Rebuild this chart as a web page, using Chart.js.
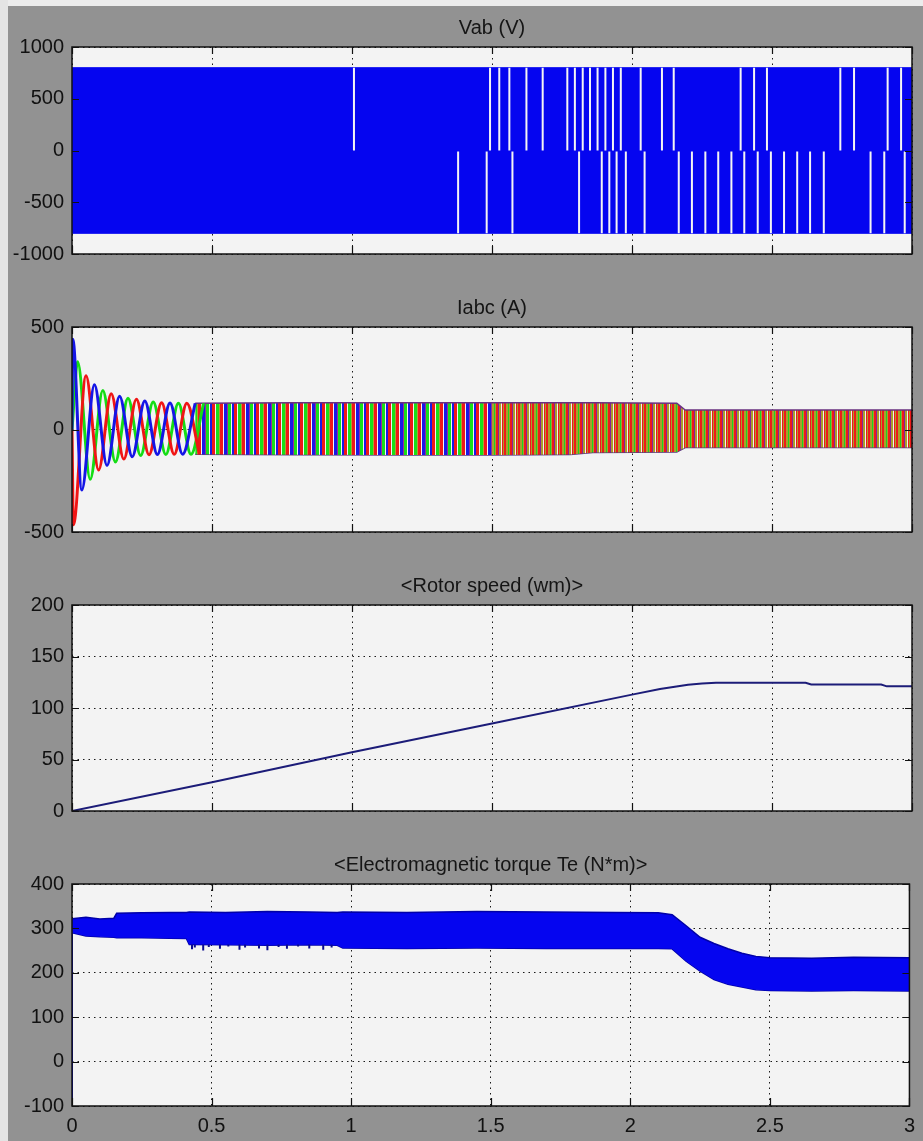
<!DOCTYPE html>
<html>
<head>
<meta charset="utf-8">
<title>Vab, Iabc, rotor speed, torque</title>
<script src="https://cdn.jsdelivr.net/npm/chart.js@4.4.0/dist/chart.umd.min.js"></script>
<style>
  html, body { margin: 0; padding: 0; }
  body { width: 923px; height: 1141px; background: #929292; position: relative; overflow: hidden; }
  .topband { position: absolute; left: 0; top: 0; width: 923px; height: 6px; background: #ececec; }
  .leftband { position: absolute; left: 0; top: 0; width: 8px; height: 1141px; background: #e4e4e4; }
  canvas { position: absolute; left: 0; }
</style>
</head>
<body>
<div class="topband"></div>
<div class="leftband"></div>
<canvas id="vab" width="923" height="267" style="top:7px"></canvas>
<canvas id="iabc" width="923" height="265" style="top:287px"></canvas>
<canvas id="speed" width="923" height="266" style="top:565px"></canvas>
<canvas id="torque" width="923" height="297" style="top:844px"></canvas>
<script>
// time axis (s)
const timeTicks = [0, 0.5, 1, 1.5, 2, 2.5, 3];

// Vab (V): PWM band with white gaps
const vabBandT = [0, 3];
const vabUpper = [800, 800];
const vabLower = [-800, -800];
const vabGapUpperT = [1.007, 1.493, 1.526, 1.562, 1.623, 1.681, 1.769, 1.796, 1.824, 1.850, 1.877, 1.905,
  1.932, 1.960, 2.031, 2.107, 2.149, 2.388, 2.436, 2.482, 2.744, 2.793, 2.913, 2.961];
const vabGapLowerT = [1.379, 1.481, 1.573, 1.811, 1.892, 1.919, 1.945, 1.978, 2.045, 2.167, 2.214, 2.262,
  2.308, 2.355, 2.401, 2.449, 2.496, 2.543, 2.590, 2.636, 2.685, 2.852, 2.901, 2.974];
const vabGapUpperSpan = [800, 0];
const vabGapLowerSpan = [-10, -800];

// Iabc (A): start-up peaks of the three phases
const iaT = [0, 0.005, 0.05, 0.095, 0.14, 0.185, 0.23, 0.275, 0.32, 0.365, 0.41, 0.455];
const iaV = [0, -465, 262, -198, 175, -144, 148, -123, 131, -121, 128, -121];
const ibT = [0, 0.003, 0.035, 0.08, 0.125, 0.17, 0.215, 0.26, 0.305, 0.35, 0.395, 0.44];
const ibV = [0, 440, -295, 218, -175, 162, -133, 139, -122, 129, -121, 128];
const icT = [0, 0.02, 0.065, 0.11, 0.155, 0.2, 0.245, 0.29, 0.335, 0.38, 0.425, 0.47];
const icV = [0, 330, -243, 190, -158, 153, -127, 134, -122, 128, -121, 128];
// Iabc envelope of the dense part
const iBandT = [0.44, 0.8, 1.2, 1.5, 1.78, 1.86, 2.16, 2.19, 3];
const iBandUp = [128, 130, 130, 130, 130, 130, 128, 95, 95];
const iBandLo = [-121, -123, -124, -124, -122, -112, -110, -88, -88];

// rotor speed (rad/s)
const wT = [0, 0.5, 1, 1.5, 2, 2.1, 2.2, 2.25, 2.3, 2.62, 2.64, 2.89, 2.91, 3];
const wV = [0, 28, 57, 85, 113, 118.5, 122.5, 123.8, 124.5, 124.5, 122.8, 122.8, 121, 121];

// electromagnetic torque (N*m): ripple band
const teT = [0, 0.05, 0.1, 0.15, 0.16, 0.25, 0.35, 0.41, 0.42, 0.55, 0.7, 0.85, 0.95, 0.97, 1.2, 1.45,
  1.7, 1.95, 2.1, 2.15, 2.2, 2.25, 2.3, 2.35, 2.4, 2.45, 2.5, 2.65, 2.8, 3];
const teUpper = [322, 325, 321, 323, 334, 335, 336, 336, 337, 336, 338, 337, 336, 337, 336, 338,
  337, 336, 335, 331, 306, 280, 266, 254, 244, 237, 234, 233, 235, 234];
const teLower = [290, 283, 281, 280, 279, 279, 278, 277, 264, 263, 262, 263, 262, 256, 255, 256,
  255, 255, 255, 254, 226, 204, 185, 174, 168, 162, 160, 159, 160, 159];
const teStartT = [0, 0];
const teStartV = [-130, 310];
const teSpikeT = [0.43, 0.44, 0.47, 0.49, 0.53, 0.56, 0.6, 0.62, 0.67, 0.7, 0.74, 0.77, 0.81, 0.85, 0.9, 0.93];
const teSpikeV = [253, 257, 250, 258, 254, 259, 252, 257, 255, 251, 258, 254, 259, 255, 252, 257];
const teSpikeTop = 264;

const FONT = '"Liberation Sans", Arial, sans-serif';

function pts(ts, vs) {
  return ts.map((t, i) => ({ x: t, y: vs[i] }));
}

// vertical segments separated by gaps
function bars(ts, from, to) {
  const out = [];
  ts.forEach((t, i) => {
    const a = Array.isArray(from) ? from[i] : from;
    const b = Array.isArray(to) ? to[i] : to;
    out.push({ x: t, y: a }, { x: t, y: b }, { x: t, y: null });
  });
  return out;
}

function stripes(parts) {
  const c = document.createElement('canvas');
  c.width = parts.reduce((s, p) => s + p[1], 0);
  c.height = 4;
  const g = c.getContext('2d');
  let x = 0;
  parts.forEach(([col, w]) => { g.fillStyle = col; g.fillRect(x, 0, w, 4); x += w; });
  return g.createPattern(c, 'repeat');
}

// plot background, box, inward ticks and the title, like a scope figure
const scopeFrame = {
  id: 'scopeFrame',
  beforeDraw(chart, args, opts) {
    const { ctx, chartArea: a } = chart;
    ctx.save();
    ctx.fillStyle = '#f3f3f3';
    ctx.fillRect(a.left, a.top, a.width, a.height);
    ctx.restore();
  },
  afterDraw(chart, args, opts) {
    const { ctx, chartArea: a, scales } = chart;
    ctx.save();
    ctx.strokeStyle = '#111';
    ctx.lineWidth = 1.5;
    ctx.strokeRect(a.left, a.top, a.width, a.height);
    ctx.lineWidth = 1.2;
    ctx.beginPath();
    scales.x.ticks.forEach(t => {
      const x = Math.round(scales.x.getPixelForValue(t.value)) + 0.5;
      ctx.moveTo(x, a.top); ctx.lineTo(x, a.top + 7);
      ctx.moveTo(x, a.bottom); ctx.lineTo(x, a.bottom - 8);
    });
    scales.y.ticks.forEach(t => {
      const y = Math.round(scales.y.getPixelForValue(t.value)) + 0.5;
      ctx.moveTo(a.left, y); ctx.lineTo(a.left + 7, y);
      ctx.moveTo(a.right, y); ctx.lineTo(a.right - 7, y);
    });
    ctx.stroke();
    ctx.fillStyle = '#151515';
    ctx.font = '20px ' + FONT;
    ctx.textAlign = 'center';
    ctx.textBaseline = 'middle';
    ctx.fillText(opts.title, (a.left + a.right) / 2, a.top - 19);
    ctx.restore();
  }
};

function makeChart(id, title, datasets, yMin, yMax, yStep, showX) {
  const grid = { color: '#1a1a1a', lineWidth: 1, drawTicks: false };
  const border = { display: false, dash: [1.5, 4] };
  const tickFont = { family: FONT, size: 20 };
  return new Chart(document.getElementById(id), {
    type: 'line',
    data: { datasets },
    plugins: [scopeFrame],
    options: {
      responsive: false,
      animation: false,
      events: [],
      layout: { padding: { top: 40, left: 0, right: 11, bottom: showX ? 0 : 4 } },
      elements: { point: { radius: 0 } },
      plugins: { legend: { display: false }, tooltip: { enabled: false }, scopeFrame: { title } },
      scales: {
        x: {
          type: 'linear', min: 0, max: 3,
          afterBuildTicks: s => { s.ticks = timeTicks.map(v => ({ value: v })); },
          ticks: { display: showX, color: '#111', font: tickFont, padding: 8, maxRotation: 0, autoSkip: false,
            callback: v => String(v) },
          grid, border,
          afterFit: s => { s.height = showX ? 35 : 0; }
        },
        y: {
          min: yMin, max: yMax,
          ticks: { stepSize: yStep, color: '#111', font: tickFont, padding: 8, callback: v => String(v) },
          grid, border,
          afterFit: s => { s.width = 72; }
        }
      }
    }
  });
}

const BLUE = '#0505f0';

makeChart('vab', 'Vab (V)', [
  { data: bars(vabGapUpperT, vabGapUpperSpan[0], vabGapUpperSpan[1]), borderColor: '#f4f4f4', borderWidth: 2, spanGaps: false },
  { data: bars(vabGapLowerT, vabGapLowerSpan[0], vabGapLowerSpan[1]), borderColor: '#f4f4f4', borderWidth: 2, spanGaps: false },
  { data: pts(vabBandT, vabUpper), borderColor: BLUE, borderWidth: 1, backgroundColor: BLUE, fill: 3 },
  { data: pts(vabBandT, vabLower), borderColor: BLUE, borderWidth: 1, fill: false }
], -1000, 1000, 500, false);

const patEarly = stripes([['#f01818', 3], ['#f4f4f4', 1], ['#1818e8', 3], ['#9a2a9a', 1], ['#18e018', 3], ['#f4f4f4', 1],
  ['#1818e8', 2], ['#f01818', 3], ['#f4f4f4', 1], ['#18e018', 3], ['#b0a030', 1]]);
const patLate = stripes([['#ee1a1a', 2], ['#a8a02a', 2], ['#20d020', 1], ['#a8a02a', 1], ['#ee1a1a', 2], ['#8a2098', 1],
  ['#a8a02a', 2], ['#f2f2f2', 1], ['#ee1a1a', 1], ['#a8a02a', 1]]);

makeChart('iabc', 'Iabc (A)', [
  { data: pts(ibT, ibV), borderColor: '#1515e6', borderWidth: 3, cubicInterpolationMode: 'monotone' },
  { data: pts(iaT, iaV), borderColor: '#f01515', borderWidth: 3, cubicInterpolationMode: 'monotone' },
  { data: pts(icT, icV), borderColor: '#15dd15', borderWidth: 3, cubicInterpolationMode: 'monotone' },
  { data: pts(iBandT, iBandUp), borderColor: '#6a3080', borderWidth: 1.5, fill: 4,
    backgroundColor: patEarly,
    segment: { backgroundColor: c => c.p0.parsed.x < 1.5 ? patEarly : patLate } },
  { data: pts(iBandT, iBandLo), borderColor: '#5a3a80', borderWidth: 1.5, fill: false }
], -500, 500, 500, false);

makeChart('speed', '<Rotor speed (wm)>', [
  { data: pts(wT, wV), borderColor: '#1c1c78', borderWidth: 2 }
], 0, 200, 50, false);

makeChart('torque', '<Electromagnetic torque Te (N*m)>', [
  { data: pts(teStartT, teStartV), borderColor: BLUE, borderWidth: 2 },
  { data: bars(teSpikeT, teSpikeTop, teSpikeV), borderColor: '#0a0a90', borderWidth: 2, spanGaps: false },
  { data: pts(teT, teUpper), borderColor: '#0000a8', borderWidth: 1.5, backgroundColor: BLUE, fill: 3 },
  { data: pts(teT, teLower), borderColor: '#0000a8', borderWidth: 1.5, fill: false }
], -100, 400, 100, true);
</script>
</body>
</html>
